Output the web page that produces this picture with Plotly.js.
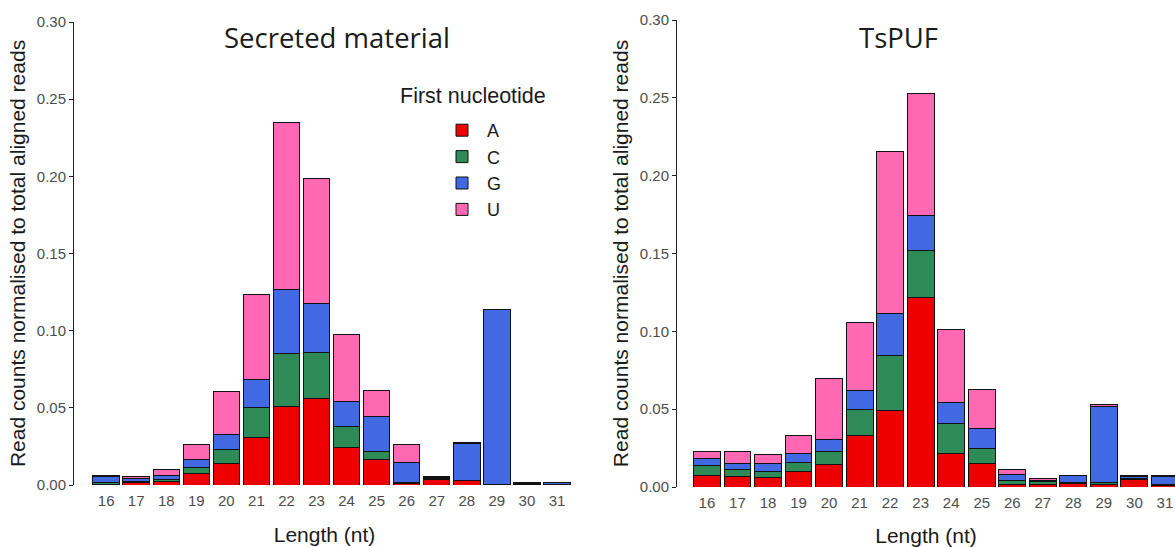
<!DOCTYPE html>
<html>
<head>
<meta charset="utf-8">
<script src="https://cdn.plot.ly/plotly-3.0.1.min.js"></script>
<style>
  html, body { margin: 0; padding: 0; background: #ffffff; }
  #chart { width: 1175px; height: 547px; }
</style>
</head>
<body>
<div id="chart"></div>
<script>
// Read length categories (nt)
const lengths = ['16','17','18','19','20','21','22','23','24','25','26','27','28','29','30','31'];

// Secreted material: normalised read counts split by first nucleotide
const secretedA = [0.0003,0.0014,0.0024,0.0072,0.0141,0.0306,0.0507,0.0563,0.0245,0.0163,0.0012,0.0038,0.0027,0.0003,0.0005,0.0002];
const secretedC = [0.0013,0.0006,0.0011,0.0043,0.0091,0.0193,0.0348,0.0296,0.0134,0.0056,0.0004,0.0003,0.0002,0.0002,0.0003,0.0001];
const secretedG = [0.0038,0.0022,0.0028,0.0048,0.0095,0.0187,0.0414,0.0315,0.0162,0.0227,0.0128,0.0010,0.0238,0.1133,0.0005,0.0012];
const secretedU = [0.0006,0.0012,0.0038,0.0097,0.0277,0.0547,0.1079,0.0812,0.0436,0.0166,0.0116,0.0004,0.0006,0.0002,0.0003,0.0002];

// TsPUF: normalised read counts split by first nucleotide
const tspufA = [0.0074,0.0067,0.0061,0.0101,0.0146,0.0333,0.0492,0.1216,0.0218,0.0149,0.0019,0.0019,0.0023,0.0013,0.0048,0.0010];
const tspufC = [0.0065,0.0048,0.0040,0.0054,0.0085,0.0168,0.0351,0.0301,0.0193,0.0099,0.0021,0.0015,0.0004,0.0015,0.0004,0.0005];
const tspufG = [0.0045,0.0033,0.0047,0.0061,0.0077,0.0121,0.0269,0.0227,0.0131,0.0129,0.0040,0.0008,0.0045,0.0488,0.0017,0.0052];
const tspufU = [0.0047,0.0077,0.0061,0.0112,0.0391,0.0432,0.1041,0.0781,0.0472,0.0247,0.0031,0.0015,0.0005,0.0011,0.0008,0.0010];

const nucleotides = ['A','C','G','U'];
const nucColors = {A: '#EE0000', C: '#2E8B57', G: '#4169E1', U: '#FF69B4'};

const secreted = {A: secretedA, C: secretedC, G: secretedG, U: secretedU};
const tspuf = {A: tspufA, C: tspufC, G: tspufG, U: tspufU};

function barTrace(nuc, values, xa, ya, showLegend) {
  return {
    type: 'bar',
    name: nuc,
    x: lengths,
    y: values,
    xaxis: xa,
    yaxis: ya,
    width: 0.88,
    legendgroup: nuc,
    showlegend: showLegend,
    marker: { color: nucColors[nuc], line: { color: '#111111', width: 1 } },
    hovertemplate: 'Length %{x} nt<br>' + nuc + ': %{y:.4f}<extra></extra>'
  };
}

const traces = [];
nucleotides.forEach(n => traces.push(barTrace(n, secreted[n], 'x', 'y', true)));
nucleotides.forEach(n => traces.push(barTrace(n, tspuf[n], 'x2', 'y2', false)));

const tickFont = { family: 'Liberation Sans, Arial, sans-serif', size: 15, color: '#4D4D4D' };
const axisTitleFont = { family: 'Liberation Sans, Arial, sans-serif', size: 21, color: '#1A1A1A' };
const yTitle = 'Read counts normalised to total aligned reads';

function xAxis(domain, range, anchor) {
  return {
    domain: domain,
    range: range,
    anchor: anchor,
    type: 'category',
    showline: false,
    showgrid: false,
    zeroline: false,
    ticks: 'outside',
    ticklen: 2,
    tickcolor: 'rgba(0,0,0,0)',
    tickfont: tickFont,
    title: { text: 'Length (nt)', font: axisTitleFont, standoff: 19 },
    fixedrange: true
  };
}

function yAxis(domain, anchor) {
  return {
    domain: domain,
    range: [0, 0.3],
    anchor: anchor,
    tickvals: [0, 0.05, 0.10, 0.15, 0.20, 0.25, 0.30],
    tickformat: '.2f',
    showline: true,
    linecolor: '#222222',
    linewidth: 1,
    showgrid: false,
    zeroline: false,
    ticks: 'outside',
    ticklen: 4,
    tickcolor: '#222222',
    tickfont: tickFont,
    title: { text: yTitle, font: axisTitleFont, standoff: 5 },
    fixedrange: true
  };
}

const layout = {
  width: 1175,
  height: 547,
  margin: { l: 0, r: 0, t: 0, b: 0 },
  paper_bgcolor: '#ffffff',
  plot_bgcolor: '#ffffff',
  barmode: 'stack',
  showlegend: true,
  xaxis: xAxis([74 / 1175, 575 / 1175], [-1.07, 15.6], 'y'),
  yaxis: yAxis([62 / 547, 525 / 547], 'x'),
  xaxis2: xAxis([677 / 1175, 1], [-0.98, 15.33], 'y2'),
  yaxis2: yAxis([60 / 547, 527 / 547], 'x2'),
  legend: {
    x: 437 / 1175,
    y: 1 - 112 / 547,
    xanchor: 'left',
    yanchor: 'top',
    traceorder: 'normal',
    itemwidth: 40,
    bgcolor: 'rgba(0,0,0,0)',
    font: { family: 'Liberation Sans, Arial, sans-serif', size: 18, color: '#1A1A1A' },
    itemclick: false,
    itemdoubleclick: false
  },
  annotations: [
    {
      text: 'Secreted material', xref: 'paper', yref: 'paper',
      x: 337 / 1175, y: 1 - 37 / 547, xanchor: 'center', yanchor: 'middle',
      showarrow: false,
      font: { family: 'Open Sans, sans-serif', size: 27.5, color: '#1A1A1A' }
    },
    {
      text: 'TsPUF', xref: 'paper', yref: 'paper',
      x: 898 / 1175, y: 1 - 37 / 547, xanchor: 'center', yanchor: 'middle',
      showarrow: false,
      font: { family: 'Open Sans, sans-serif', size: 27.5, color: '#1A1A1A' }
    },
    {
      text: 'First nucleotide', xref: 'paper', yref: 'paper',
      x: 473 / 1175, y: 1 - 96 / 547, xanchor: 'center', yanchor: 'middle',
      showarrow: false,
      font: { family: 'Liberation Sans, Arial, sans-serif', size: 21.5, color: '#1A1A1A' }
    }
  ]
};

Plotly.newPlot('chart', traces, layout, { displayModeBar: false, staticPlot: false });
</script>
</body>
</html>
